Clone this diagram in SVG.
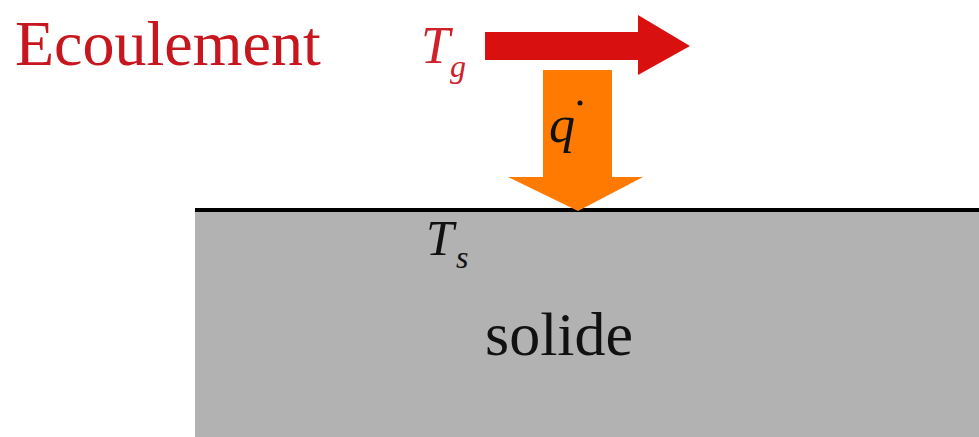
<svg xmlns="http://www.w3.org/2000/svg" width="979" height="437" viewBox="0 0 979 437">
<style>
.serif{font-family:"Liberation Serif","Times New Roman",serif}
.it{font-style:italic}
</style>
<rect width="979" height="437" fill="#ffffff"/>
<g id="solid">
<rect x="195" y="210" width="784" height="227" fill="#b2b2b2"/>
<line x1="195" y1="210" x2="979" y2="210" stroke="#000" stroke-width="4"/>
<text class="serif" x="485" y="355" font-size="62" fill="#111">solide</text>
<text class="serif it" x="426" y="255" font-size="50" fill="#111">T</text>
<text class="serif it" x="456" y="268" font-size="32" fill="#111">s</text>
</g>
<g id="flow">
<text class="serif" x="15" y="65" font-size="64" fill="#c8161e">Ecoulement</text>
<text class="serif it" x="421" y="63" font-size="52" fill="#d0202a">T</text>
<text class="serif it" x="450" y="77" font-size="32" fill="#d0202a">g</text>
<polygon points="485,32 638,32 638,15 690,46 638,75 638,60 485,60" fill="#d81010"/>
</g>
<g id="heatflux">
<polygon points="543,70 612,70 612,177 643,177 578,211 508,177 543,177" fill="#ff7a00"/>
<text class="serif it" x="549" y="142" font-size="52" fill="#111">q</text>
<circle cx="580" cy="103" r="2.5" fill="#111"/>
</g>
</svg>
